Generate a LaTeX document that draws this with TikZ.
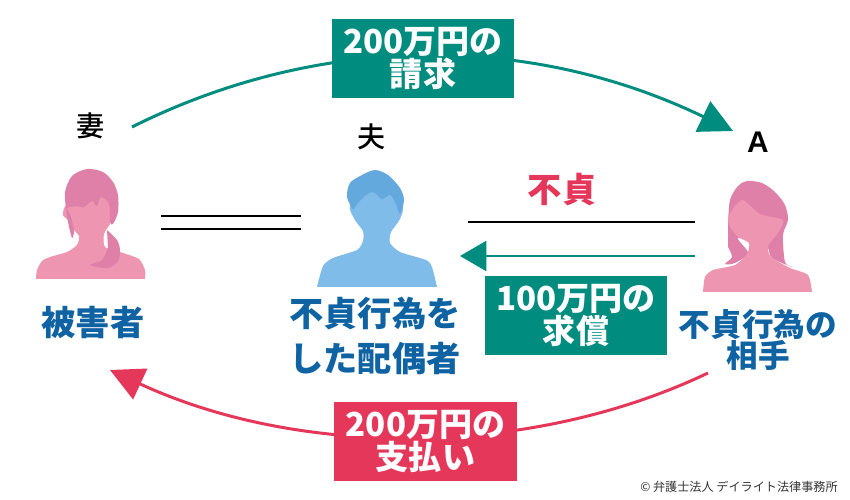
\documentclass[tikz,border=0pt]{standalone}
\usepackage{fontspec}
\setmainfont{Noto Sans CJK JP}
\newfontfamily\latinbold{Liberation Sans}
\newfontfamily\cjkmedium{Noto Sans CJK JP Medium}
\usetikzlibrary{arrows.meta}
\definecolor{tealbox}{HTML}{008C7E}
\definecolor{redbox}{HTML}{E5375A}
\definecolor{bluetext}{HTML}{0F63A3}
\definecolor{pinkskin}{HTML}{EE95B1}
\definecolor{pinkhair}{HTML}{DE80A8}
\definecolor{blueskin}{HTML}{7FBCE9}
\definecolor{bluehair}{HTML}{64A9DD}
\tikzset{
	boxlabel/.style={fill=#1, text=white, font=\fontsize{18.8}{18.8}\selectfont\bfseries, align=center, minimum width=3.66cm, minimum height=1.6cm, inner sep=0pt},
	rolelabel/.style={text=bluetext, font=\fontsize{#1}{#1}\selectfont\bfseries, align=center, inner sep=0pt},
	namelabel/.style={text=black, font=\cjkmedium\fontsize{16}{16}\selectfont, inner sep=0pt},
	blackline/.style={line width=1.2pt, color=black},
	curveline/.style={line width=1.7pt, color=#1, -{Triangle[length=19pt, width=19pt, fill=#1]}},
	silhouette/.style={fill=#1, draw=none}
}

\begin{document}
\begin{tikzpicture}[x=0.02cm, y=-0.02cm]
		%%%%% START %%%%%
		\useasboundingbox (0, 0) rectangle (850, 500);
		
		% wife
		\fill[silhouette=pinkskin] (36, 279) plot[smooth, tension=0.4] coordinates {(36, 279) (37, 270) (42, 261) (50, 257) (67, 252) (77, 245) (79, 236) (72, 228) (68, 220) (63, 215) (66, 205) (88, 185) (112, 203) (115, 214) (110, 224) (104, 234) (105, 247) (123, 253) (139, 259) (145, 270) (145, 279)} -- cycle;
		\fill[silhouette=pinkhair] plot[smooth, tension=0.5] coordinates {(66, 208) (65, 192) (72, 176) (87, 169) (103, 172) (113, 182) (118, 195) (118, 212) (113, 224) (110, 222) (109, 204) (101, 197) (97, 206) (92, 201) (84, 207) (76, 206)} -- cycle;
		\fill[silhouette=pinkhair] plot[smooth, tension=0.5] coordinates {(66, 207) (68, 222) (72, 238) (74, 230) (70, 214)} -- cycle;
		\fill[silhouette=pinkhair] plot[smooth, tension=0.5] coordinates {(107, 230) (117, 240) (120, 250) (118, 261) (108, 268) (90, 265) (102, 260) (108, 248)} -- cycle;
		
		% husband
		\fill[silhouette=blueskin] (317, 287) plot[smooth, tension=0.4] coordinates {(317, 287) (323, 266) (333, 258) (357, 250) (363, 241) (363, 231) (355, 220) (350, 205) (375, 185) (402, 205) (400, 219) (391, 232) (390, 243) (400, 252) (426, 260) (432, 267) (437, 287)} -- cycle;
		\fill[silhouette=bluehair] plot[smooth, tension=0.5] coordinates {(353, 210) (347, 197) (350, 183) (362, 175) (375, 170) (388, 175) (400, 188) (404, 200) (400, 214) (396, 204) (390, 195) (382, 199) (373, 192) (365, 196) (358, 203)} -- cycle;
		
		% partner A
		\fill[silhouette=pinkhair] plot[smooth, tension=0.5] coordinates {(728, 225) (730, 200) (738, 186) (747, 181) (762, 183) (775, 192) (785, 205) (788, 220) (783, 235) (785, 262) (792, 267) (772, 258) (768, 248) (760, 240) (738, 238) (748, 253) (735, 263) (725, 264) (732, 257) (728, 247)} -- cycle;
		\fill[silhouette=pinkskin] (703, 292) plot[smooth, tension=0.4] coordinates {(703, 292) (705, 277) (713, 270) (735, 265) (747, 254) (749, 243) (738, 237) (730, 227) (728, 218) (734, 207) (743, 200) (760, 214) (783, 220) (778, 233) (768, 246) (771, 257) (790, 268) (808, 275) (812, 292)} -- cycle;
		
		\node[namelabel] (wifename) at (91, 126) {妻};
		\node[namelabel] (husbandname) at (372, 137) {夫};
		\node[namelabel, font=\latinbold\fontsize{17}{17}\selectfont\bfseries] (aname) at (758, 142) {A};
		
		\node[rolelabel=19.5] (victim) at (93, 322) {被害者};
		\node[rolelabel=19.5, font=\fontsize{19.5}{25.5}\selectfont\bfseries] (spouse) at (375, 336) {不貞行為を\\した配偶者};
		\node[rolelabel=18, font=\fontsize{18}{18}\selectfont\bfseries] (partner) at (758, 340) {不貞行為の\\相手};
		\node[text=redbox, font=\fontsize{19.5}{19.5}\selectfont\bfseries, inner sep=0pt] (affair) at (562, 190) {不貞};
		
		\coordinate (marryleft) at (161, 216);
		\coordinate (marryright) at (301, 216);
		\coordinate (marryleftb) at (161, 229);
		\coordinate (marryrightb) at (301, 229);
		\draw[blackline] (marryleft) -- (marryright);
		\draw[blackline] (marryleftb) -- (marryrightb);
		
		\coordinate (affairleft) at (468, 222);
		\coordinate (affairright) at (695, 222);
		\draw[blackline] (affairleft) -- (affairright);
		
		\coordinate (repayfrom) at (695, 256);
		\coordinate (repayto) at (460, 256);
		\draw[line width=1.7pt, color=tealbox, -{Triangle[length=15pt, width=17pt, fill=tealbox]}] (repayfrom) -- (repayto);
		
		\coordinate (claimfrom) at (132, 127);
		\coordinate (claimto) at (733, 131);
		\draw[curveline=tealbox] (claimfrom) .. controls (320, 33) and (530, 33) .. (claimto);
		
		\coordinate (payfrom) at (708, 373);
		\coordinate (payto) at (110, 370);
		\draw[curveline=redbox] (payfrom) .. controls (530, 458) and (300, 458) .. (payto);
		
		\node[boxlabel=tealbox] (claim) at (423, 58.5) {200万円の\\請求};
		\node[boxlabel=tealbox] (repay) at (576, 315.5) {100万円の\\求償};
		\node[boxlabel=redbox] (pay) at (425.5, 441.5) {200万円の\\支払い};
		
		\node[anchor=east, text=black!80, font=\fontsize{6.9}{7}\selectfont, inner sep=0pt] (copyright) at (838, 487) {© 弁護士法人 デイライト法律事務所};
		%%%%% END %%%%%
\end{tikzpicture}
\end{document}
